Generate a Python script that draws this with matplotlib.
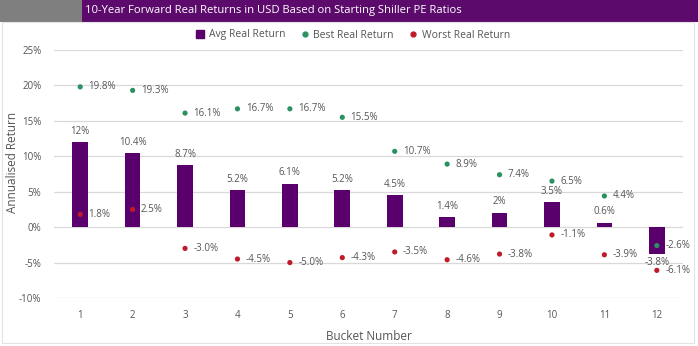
import matplotlib
matplotlib.use("Agg")
import matplotlib.pyplot as plt
from matplotlib.lines import Line2D
from matplotlib.patches import Rectangle
import numpy as np

plt.rcParams['font.family'] = ['Open Sans', 'DejaVu Sans']

buckets = ["1", "2", "3", "4", "5", "6", "7", "8", "9", "10", "11", "12"]
avg_return = [12, 10.4, 8.7, 5.2, 6.1, 5.2, 4.5, 1.4, 2, 3.5, 0.6, -3.8]
best_return = [19.8, 19.3, 16.1, 16.7, 16.7, 15.5, 10.7, 8.9, 7.4, 6.5, 4.4, -2.6]
worst_return = [1.8, 2.5, -3.0, -4.5, -5.0, -4.3, -3.5, -4.6, -3.8, -1.1, -3.9, -6.1]
y_ticks = [-10, -5, 0, 5, 10, 15, 20, 25]

title = "10-Year Forward Real Returns in USD Based on Starting Shiller PE Ratios"

purple = "#5A006C"
green = "#2A9160"
red = "#C01A28"
text_grey = "#555555"
grid_grey = "#D9D9D9"

fig = plt.figure(figsize=(6.98, 3.46), dpi=100)
fig.patch.set_facecolor("white")

# Title banner
fig.patches.append(Rectangle((0, 1 - 22 / 346), 82 / 698, 22 / 346,
                             transform=fig.transFigure, facecolor="#7F7F7F",
                             edgecolor="none", zorder=0))
fig.patches.append(Rectangle((82 / 698, 1 - 22 / 346), 1 - 82 / 698, 22 / 346,
                             transform=fig.transFigure, facecolor="#5C0B6C",
                             edgecolor="none", zorder=0))
fig.text(85 / 698, 1 - 11 / 346, title, color="white", fontsize=8.1,
         va="center", ha="left")

# Chart frame
fig.patches.append(Rectangle((2 / 698, 3 / 346), 692 / 698, 321 / 346,
                             transform=fig.transFigure, facecolor="none",
                             edgecolor="#E3E3E3", linewidth=0.8, zorder=0))

ax = fig.add_axes([54 / 698, 48 / 346, 629 / 698, 248 / 346])
x = np.arange(len(buckets))

ax.bar(x, avg_return, width=0.3, color=purple, zorder=2)
ax.scatter(x, best_return, s=14, color=green, zorder=3, edgecolors="none")
ax.scatter(x, worst_return, s=14, color=red, zorder=3, edgecolors="none")

for xi, v in zip(x, avg_return):
    label = f"{v:g}%"
    if v >= 0:
        ax.annotate(label, (xi, v), xytext=(0, 8), textcoords="offset points",
                    ha="center", va="center", fontsize=7, color=text_grey)
    else:
        ax.annotate(label, (xi, v), xytext=(0, -6), textcoords="offset points",
                    ha="center", va="center", fontsize=7, color=text_grey)

for xi, v in zip(x, best_return):
    ax.annotate(f"{v:.1f}%", (xi, v), xytext=(6, 0), textcoords="offset points",
                ha="left", va="center", fontsize=7, color=text_grey)
for xi, v in zip(x, worst_return):
    ax.annotate(f"{v:.1f}%", (xi, v), xytext=(6, 0), textcoords="offset points",
                ha="left", va="center", fontsize=7, color=text_grey)

ax.set_xlim(-0.5, len(buckets) - 0.5)
ax.set_ylim(-10, 25)
ax.set_yticks(y_ticks)
ax.set_yticklabels([f"{t}%" for t in y_ticks])
ax.set_xticks(x)
ax.set_xticklabels(buckets)
ax.tick_params(axis="both", length=0, labelsize=7, colors=text_grey)
ax.tick_params(axis="y", pad=9)
ax.tick_params(axis="x", pad=9)
ax.grid(axis="y", color=grid_grey, linewidth=0.9, zorder=0)
ax.set_axisbelow(True)
for s in ax.spines.values():
    s.set_visible(False)

ax.set_xlabel("Bucket Number", fontsize=8.5, color=text_grey, labelpad=6)
fig.text(13 / 698, 1 - 162 / 346, "Annualised Return", rotation=90,
         fontsize=8.5, color=text_grey, ha="center", va="center")

handles = [
    Line2D([], [], marker="s", color=purple, linestyle="none", markersize=6),
    Line2D([], [], marker="o", color=green, linestyle="none", markersize=3.5),
    Line2D([], [], marker="o", color=red, linestyle="none", markersize=3.5),
]
fig.legend(handles, ["Avg Real Return", "Best Real Return", "Worst Real Return"],
           loc="center", bbox_to_anchor=(352 / 698, 1 - 35 / 346), ncol=3,
           frameon=False, fontsize=7.5, labelcolor=text_grey,
           handletextpad=0.2, columnspacing=1.3, handlelength=1.2)

fig.savefig("out.png", dpi=100)
